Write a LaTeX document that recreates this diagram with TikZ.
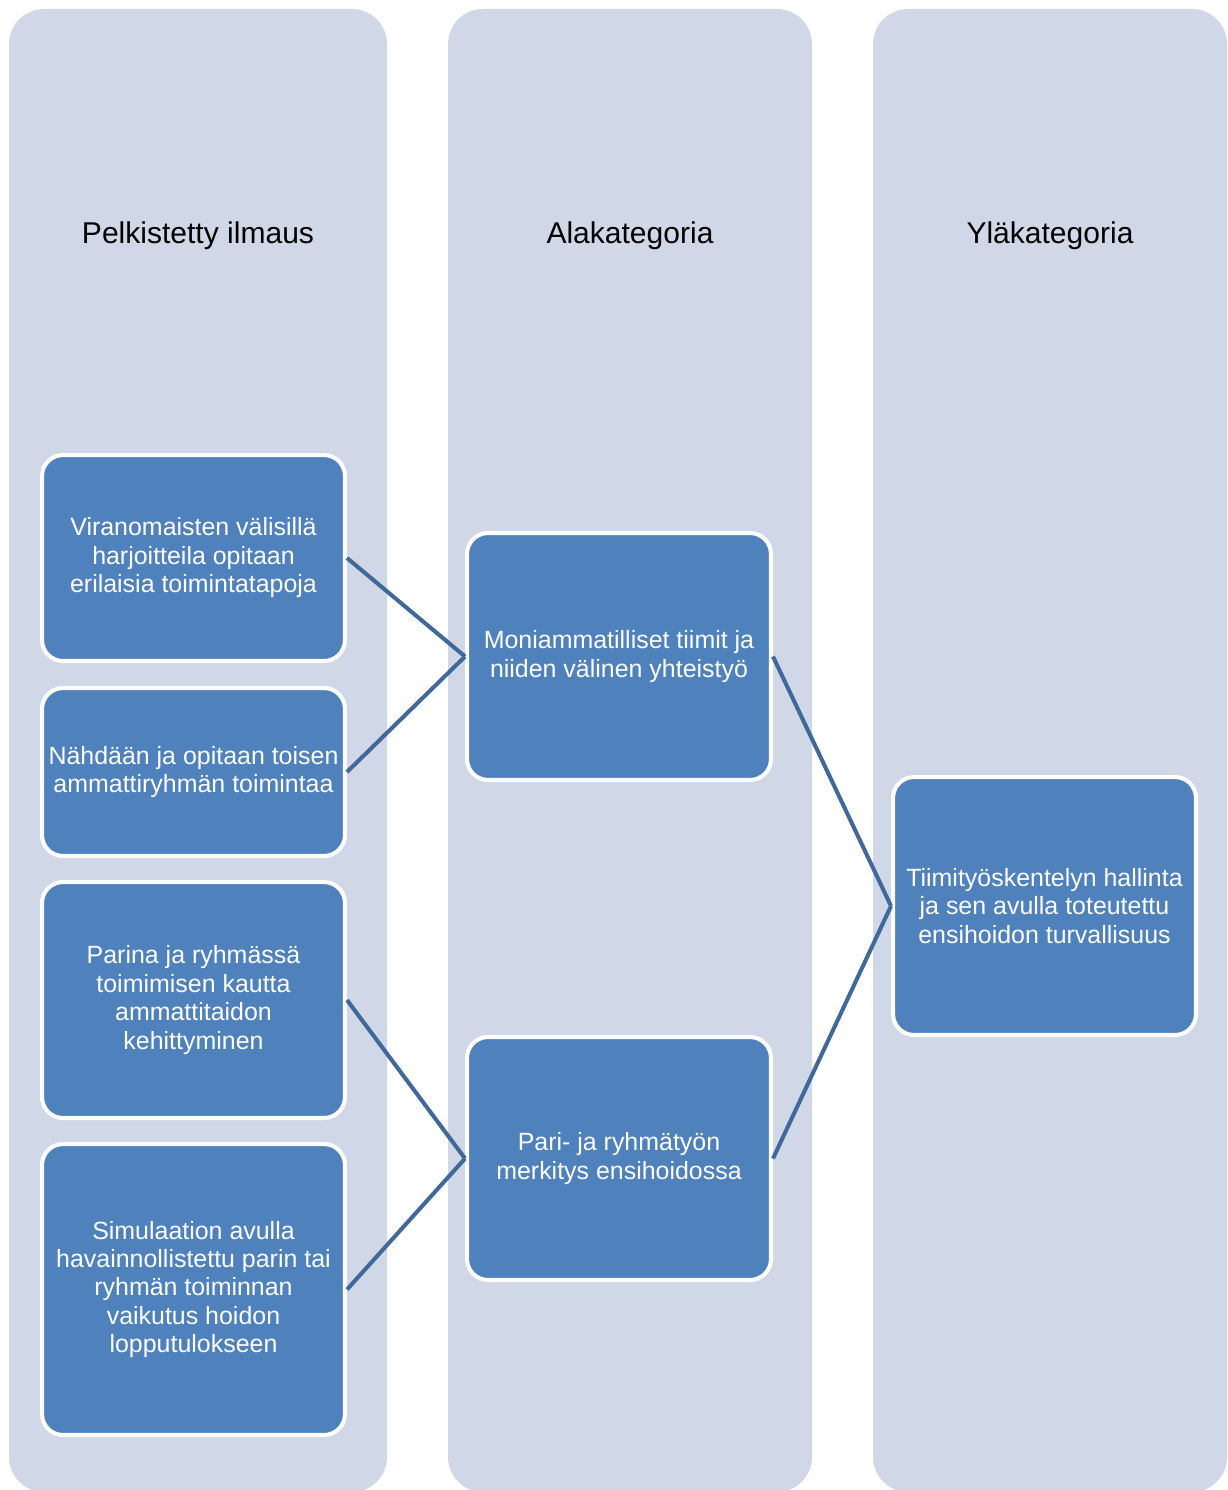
\documentclass[tikz,border=0pt]{standalone}
\usepackage{fontspec}
\setmainfont{Liberation Sans}
\definecolor{sarakeharmaa}{HTML}{D0D8E8}
\definecolor{laatikkosini}{HTML}{4F81BD}
\definecolor{viivasini}{RGB}{64,104,155}

\begin{document}
\begin{tikzpicture}[x=0.02cm,y=-0.02cm,
    sarake/.style={fill=sarakeharmaa,rounded corners=0.7cm},
    otsikko/.style={anchor=base,font=\fontsize{17.1pt}{20pt}\selectfont},
    laatikko/.style={draw=white,line width=2.3pt,fill=laatikkosini,
        rounded corners=0.42cm,text=white,align=center,inner sep=0pt,
        minimum width=6.06cm,font=\fontsize{14.2pt}{16.2pt}\selectfont},
    yhteys/.style={draw=viivasini,line width=2.3pt}]
    \useasboundingbox (0,0) rectangle (1227,1490);
    \clip (0,0) rectangle (1227,1490);

    % sarakkeet
    \fill[sarake] (9,9) rectangle (387,1492);
    \fill[sarake] (448,9) rectangle (812,1492);
    \fill[sarake] (873,9) rectangle (1227,1492);
    \node[otsikko] (o1) at (198,243) {Pelkistetty ilmaus};
    \node[otsikko] (o2) at (630,243) {Alakategoria};
    \node[otsikko] (o3) at (1050,243) {Yläkategoria};

    % pelkistetyt ilmaukset
    \node[laatikko,minimum height=4.12cm] (v1) at (193.5,558)
        {Viranomaisten välisillä\\harjoitteila opitaan\\erilaisia toimintatapoja};
    \node[laatikko,minimum height=3.36cm] (v2) at (193.5,772)
        {Nähdään ja opitaan toisen\\ammattiryhmän toimintaa};
    \node[laatikko,minimum height=4.72cm] (v3) at (193.5,1000)
        {Parina ja ryhmässä\\toimimisen kautta\\ammattitaidon\\kehittyminen};
    \node[laatikko,minimum height=5.82cm] (v4) at (193.5,1289.5)
        {Simulaation avulla\\havainnollistettu parin tai\\ryhmän toiminnan\\vaikutus hoidon\\lopputulokseen};

    % alakategoriat
    \node[laatikko,minimum width=6.08cm,minimum height=4.94cm] (a1) at (619,656.5)
        {Moniammatilliset tiimit ja\\niiden välinen yhteistyö};
    \node[laatikko,minimum width=6.08cm,minimum height=4.86cm] (a2) at (619,1158.5)
        {Pari- ja ryhmätyön\\merkitys ensihoidossa};

    % yläkategoria
    \node[laatikko,minimum height=5.16cm] (y1) at (1044.5,906)
        {Tiimityöskentelyn hallinta\\ja sen avulla toteutettu\\ensihoidon turvallisuus};

    \foreach \a/\b in {v1/a1,v2/a1,v3/a2,v4/a2,a1/y1,a2/y1}{
        \draw[yhteys] (\a.east) -- (\b.west);
    }
\end{tikzpicture}
\end{document}
